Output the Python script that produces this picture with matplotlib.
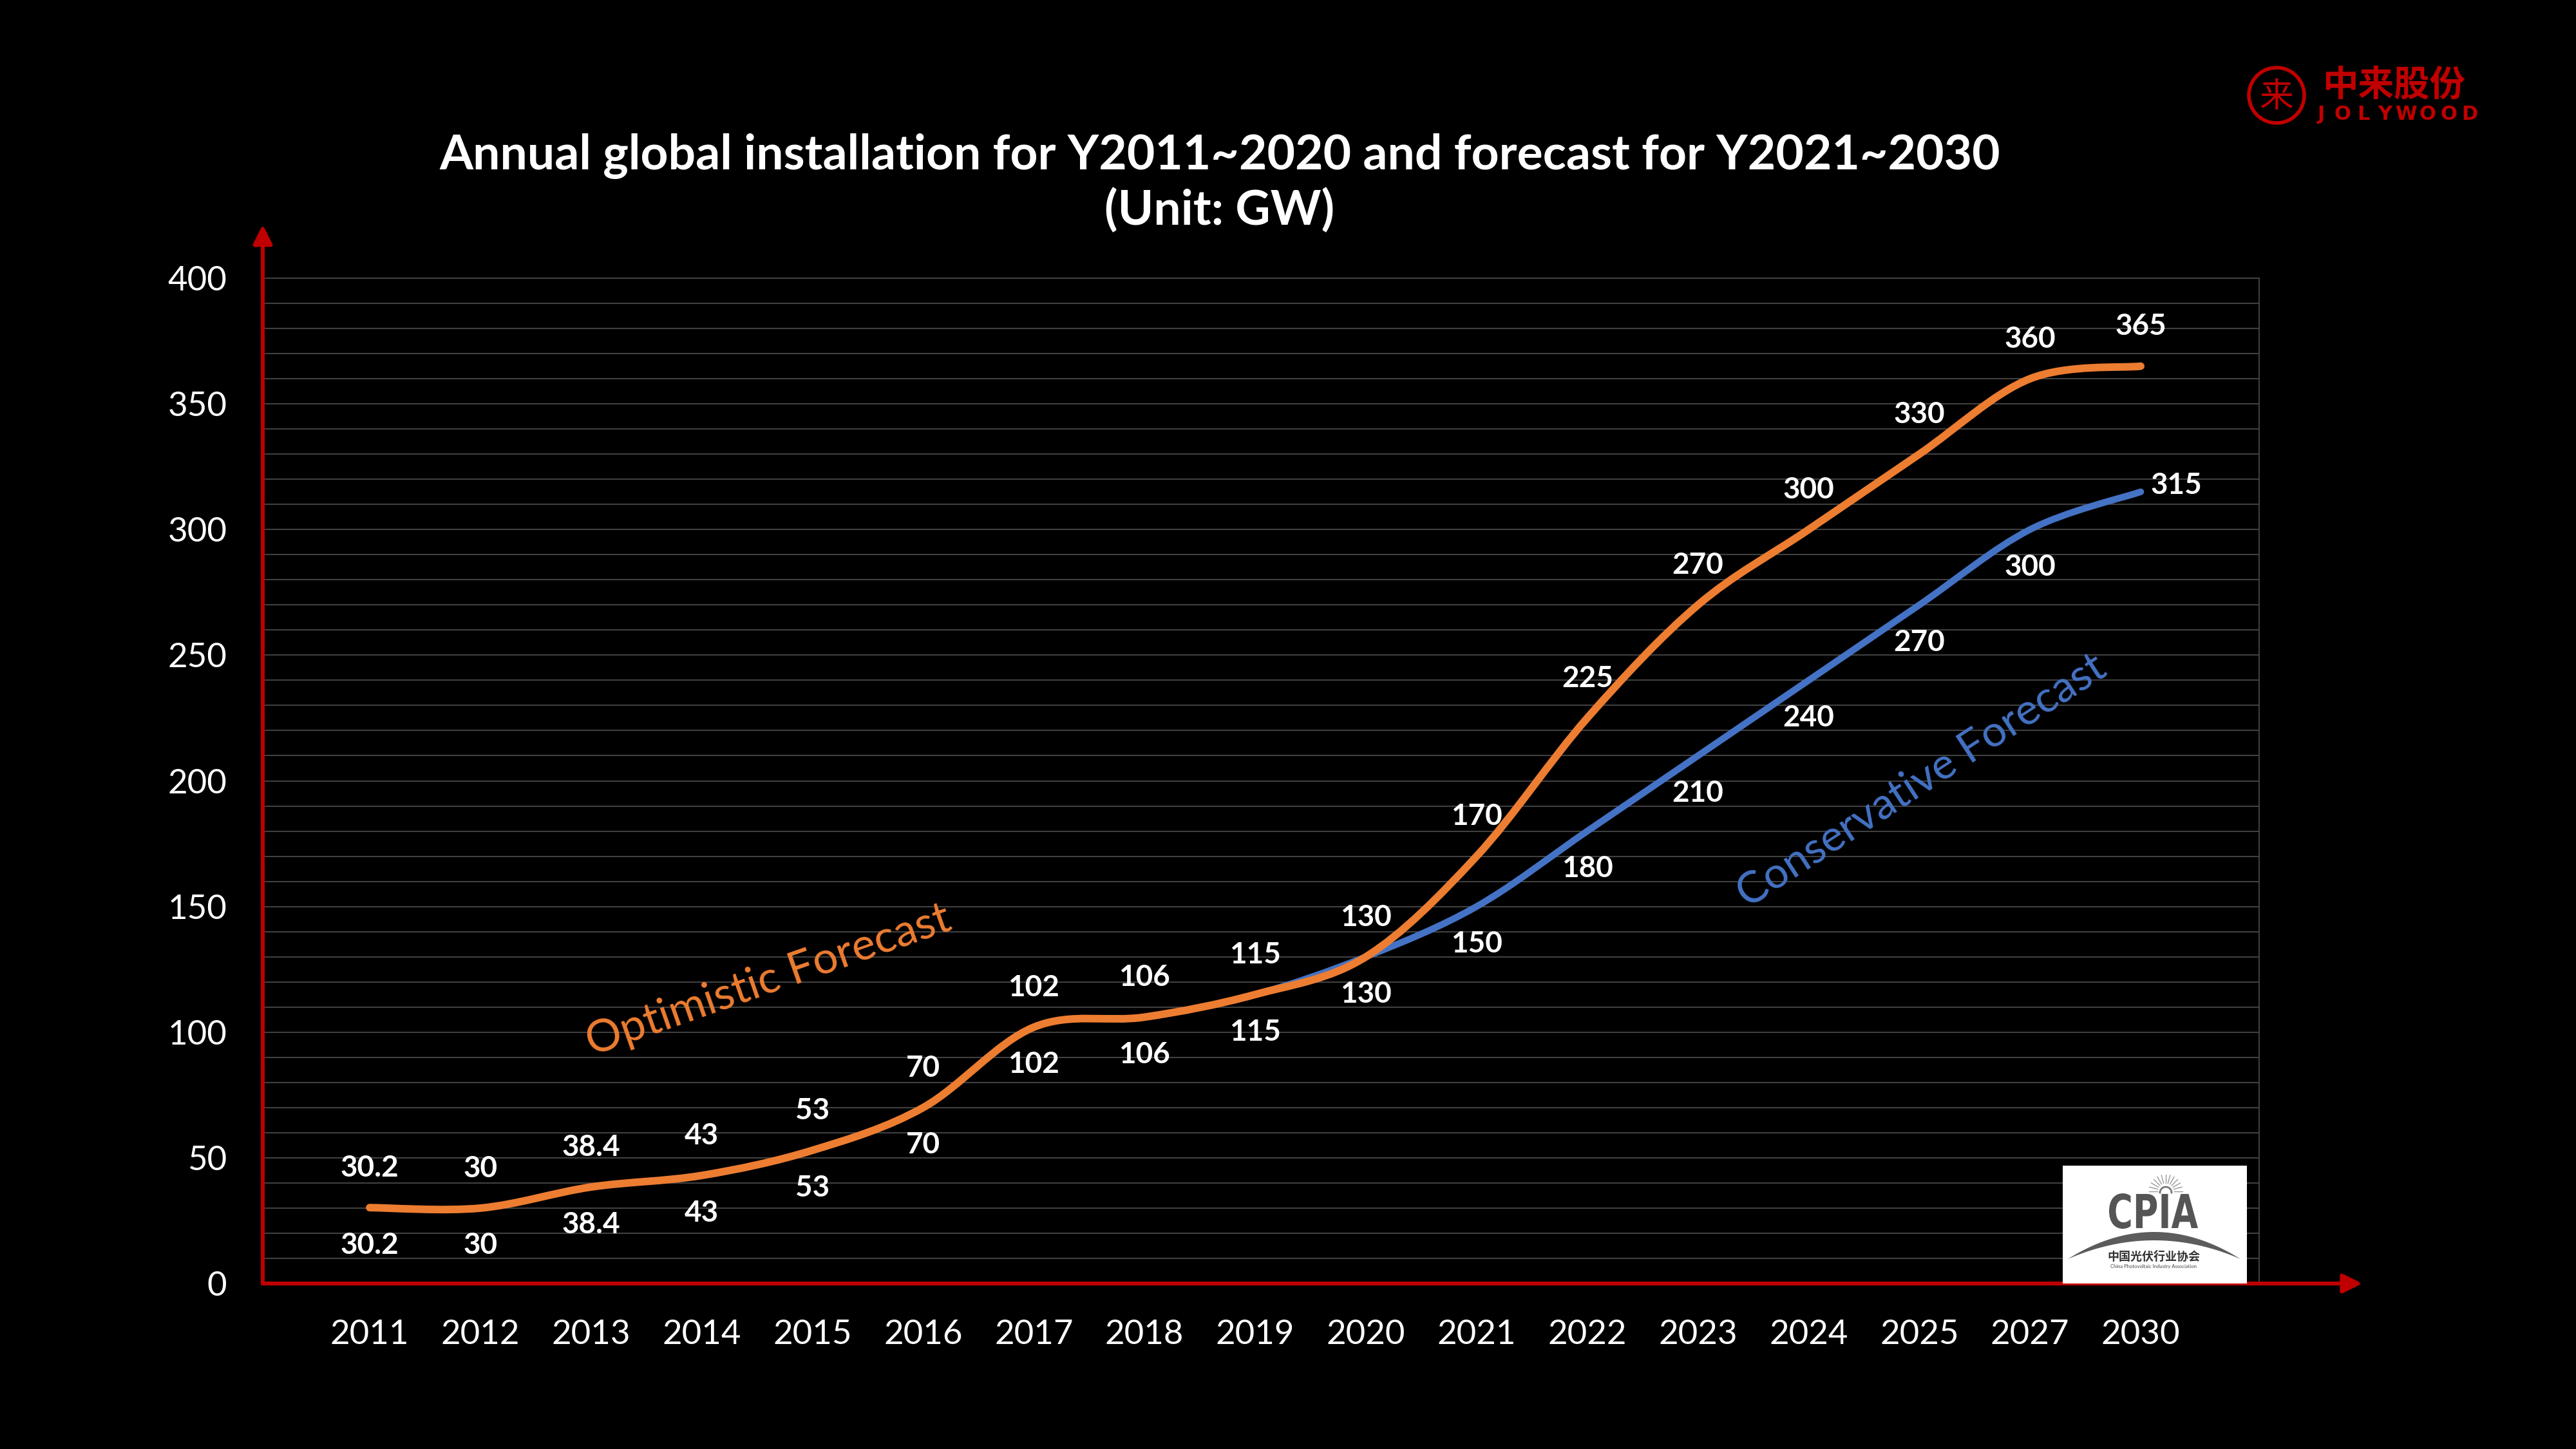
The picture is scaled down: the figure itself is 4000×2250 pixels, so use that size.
import matplotlib
matplotlib.use('Agg')
import matplotlib.pyplot as plt
import numpy as np
from matplotlib.path import Path
from matplotlib.patches import PathPatch, Circle, Polygon
from matplotlib.textpath import TextPath
from matplotlib.font_manager import FontProperties
from matplotlib.transforms import Affine2D

plt.rcParams['font.family'] = ['Lato', 'DejaVu Sans']

# data (GW)
years = ['2011', '2012', '2013', '2014', '2015', '2016', '2017', '2018', '2019',
         '2020', '2021', '2022', '2023', '2024', '2025', '2027', '2030']
optimistic = [30.2, 30, 38.4, 43, 53, 70, 102, 106, 115, 130,
              170, 225, 270, 300, 330, 360, 365]
conservative = [30.2, 30, 38.4, 43, 53, 70, 102, 106, 115, 130,
                150, 180, 210, 240, 270, 300, 315]

title1 = 'Annual global installation for Y2011~2020 and forecast for Y2021~2030'
title2 = '(Unit: GW)'

ORANGE = '#ED7D31'
BLUE = '#4472C4'
RED = '#C00000'
GRID = '#404040'


def smooth_path(ys):
    # smoothed line like office charts: bezier segments through every point
    pts = np.column_stack([np.arange(len(ys)), ys]).astype(float)
    n = len(pts)
    verts = [pts[0]]
    codes = [Path.MOVETO]
    for i in range(n - 1):
        p0 = pts[i - 1] if i > 0 else pts[i]
        p1 = pts[i]
        p2 = pts[i + 1]
        p3 = pts[i + 2] if i + 2 < n else pts[i + 1]
        verts += [p1 + (p2 - p0) / 6, p2 - (p3 - p1) / 6, p2]
        codes += [Path.CURVE4] * 3
    return Path(verts, codes)


fig = plt.figure(figsize=(40, 22.5), dpi=100, facecolor='black')
ax = fig.add_axes([0.102, 0.1142, 0.775, 0.6938])
ax.set_facecolor('black')

x = np.arange(len(years))
ax.set_xlim(-0.966, 17.07)
ax.set_ylim(0, 400)
ax.set_xticks(x)
ax.set_xticklabels(years)
ax.set_yticks(range(0, 401, 50))
ax.set_yticks(range(0, 401, 10), minor=True)
ax.grid(axis='y', which='both', color=GRID, lw=1.5, zorder=0)
ax.tick_params(axis='both', which='both', length=0, colors='white', labelsize=38)
ax.tick_params(axis='x', pad=40)
ax.tick_params(axis='y', pad=40)
for s in ax.spines.values():
    s.set_color(GRID)
    s.set_linewidth(1.5)

ax.add_patch(PathPatch(smooth_path(conservative), fill=False, ec=BLUE, lw=7.5,
                       capstyle='round', joinstyle='round', zorder=3))
ax.add_patch(PathPatch(smooth_path(optimistic), fill=False, ec=ORANGE, lw=8.5,
                       capstyle='round', joinstyle='round', zorder=4))

for i, v in enumerate(optimistic):
    ax.annotate(f'{v:g}', (x[i], v), xytext=(0, 44), textcoords='offset points',
                ha='center', va='center', color='white', fontsize=33,
                fontweight='bold', zorder=6)
for i, v in enumerate(conservative):
    off = (40, 7) if i == len(conservative) - 1 else (0, -42)
    ax.annotate(f'{v:g}', (x[i], v), xytext=off, textcoords='offset points',
                ha='center', va='center', color='white', fontsize=33,
                fontweight='bold', zorder=6)

fig.text(0.2985, 0.323, 'Optimistic Forecast', color=ORANGE, fontsize=50,
         rotation=19.3, ha='center', va='center')
fig.text(0.746, 0.4613, 'Conservative Forecast', color=BLUE, fontsize=49,
         rotation=33, ha='center', va='center')

# red axis arrows
arrow = dict(arrowstyle='-|>,head_length=1.0,head_width=0.5', color=RED, lw=4.3,
             shrinkA=0, shrinkB=0, mutation_scale=18)
ax.annotate('', xy=(0.102, 0.845), xytext=(0.102, 0.1142), xycoords='figure fraction',
            textcoords='figure fraction', arrowprops=arrow, zorder=7)
ax.annotate('', xy=(0.917, 0.1142), xytext=(0.102, 0.1142), xycoords='figure fraction',
            textcoords='figure fraction', arrowprops=arrow, zorder=7)

fig.text(0.4735, 0.8924, title1, color='white', fontsize=54, fontweight='bold',
         ha='center', va='center')
fig.text(0.4735, 0.8547, title2, color='white', fontsize=54, fontweight='bold',
         ha='center', va='center')

# Jolywood logo (pixel coordinates)
lg = fig.add_axes([3480 / 4000, 1 - 200 / 2250, 380 / 4000, 105 / 2250])
lg.set_xlim(3480, 3860)
lg.set_ylim(200, 95)
lg.axis('off')
lg.add_patch(Circle((3535, 148), 43, fill=False, ec=RED, lw=4))
lg.text(3535, 150, '来', family=['Noto Sans CJK SC'], fontsize=38, color=RED,
        ha='center', va='center')
lg.text(3717, 133, '中来股份', family=['Noto Sans CJK SC'], fontweight='bold',
        fontsize=40, color=RED, ha='center', va='center')
for k, ch in enumerate('JOLYWOOD'):
    lg.text(3604 + k * 33, 177, ch, fontsize=22, fontweight='bold', color=RED,
            ha='center', va='center', family=['DejaVu Sans'])

# CPIA logo (pixel coordinates)
cp = fig.add_axes([3203 / 4000, 1 - 1993 / 2250, 286 / 4000, 183 / 2250])
cp.set_xlim(0, 286)
cp.set_ylim(183, 0)
cp.set_facecolor('white')
cp.set_xticks([])
cp.set_yticks([])
for s in cp.spines.values():
    s.set_visible(False)
cp.set_zorder(10)
tp = TextPath((0, 0), 'CPIA', size=100, prop=FontProperties(family='DejaVu Sans', weight='bold'))
bb = tp.get_extents()
tr = Affine2D().translate(-bb.x0, -bb.y0).scale(138 / bb.width, -55 / bb.height).translate(72, 98)
cp.add_patch(PathPatch(tr.transform_path(tp), fc='#555555', ec='none'))
ang = np.linspace(0, np.pi, 13)
for a in ang:
    cp.plot([160 + 13 * np.cos(a), 160 + 26 * np.cos(a)],
            [40 - 13 * np.sin(a), 40 - 26 * np.sin(a)], color='#999999', lw=1)
t = np.linspace(0, np.pi, 40)
cp.plot(160 + 9 * np.cos(t), 42 - 9 * np.sin(t), color='#777777', lw=2)
xs = np.linspace(7, 275, 80)
up = 103 + 42 * ((xs - 142) / 134) ** 2
lo = 116 + 29 * ((xs - 142) / 134) ** 2
cp.add_patch(Polygon(np.column_stack([np.r_[xs, xs[::-1]], np.r_[up, lo[::-1]]]),
                     fc='#5c5c5c', ec='none'))
cp.text(141, 141, '中国光伏行业协会', family=['Noto Sans CJK SC'], fontweight='bold',
        fontsize=13, color='#333333', ha='center', va='center')
cp.text(141, 157, 'China Photovoltaic Industry Association', fontsize=5.5,
        color='#444444', ha='center', va='center')

fig.savefig('out.png', dpi=100, facecolor='black')
